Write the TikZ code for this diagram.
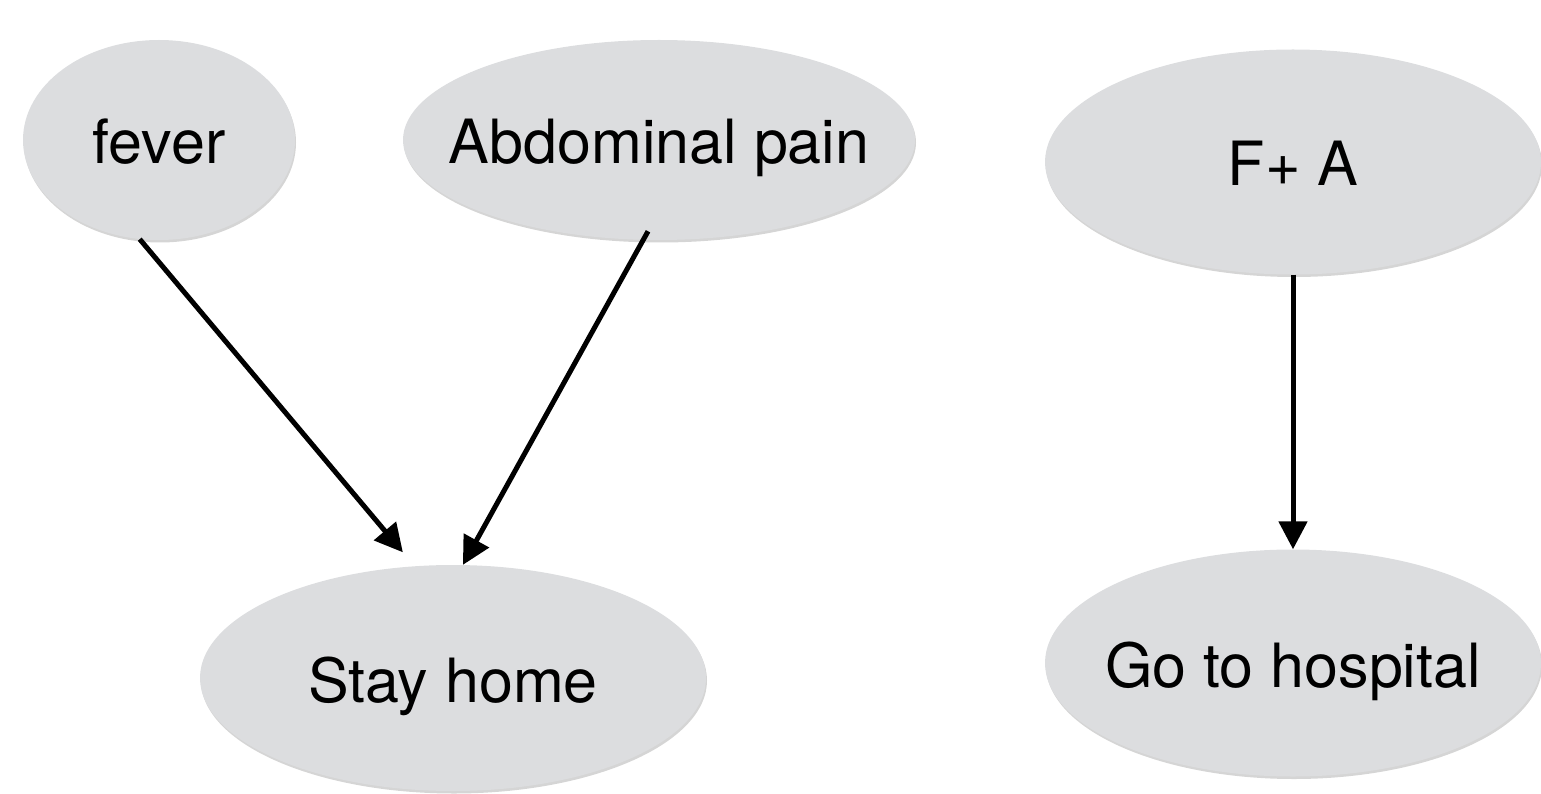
\documentclass[tikz,border=0pt]{standalone}
\usepackage{fontspec}
\setmainfont{TeX Gyre Heros}
\usetikzlibrary{shapes.geometric,arrows.meta,shadows}
\definecolor{bubble}{HTML}{DCDDDF}
\tikzset{
  bub/.style={ellipse, fill=bubble, inner sep=0pt, text height=48pt, text depth=0pt,
    drop shadow={shadow xshift=1pt, shadow yshift=-2.5pt, opacity=0.3, fill=black!55},
    font=\fontsize{61}{70}\selectfont},
  arr/.style={line width=5pt, -{Triangle[length=28pt,width=28pt]}}
}
\newcommand{\zb}[1]{\makebox[0pt]{#1}}
\begin{document}
\begin{tikzpicture}[x=1pt,y=-1pt]
\useasboundingbox (0,0) rectangle (1541,794);
\node[bub, minimum width=272pt, minimum height=200pt] (fever) at (159,140) {\zb{fever}};
\node[bub, minimum width=512pt, minimum height=200pt] (abd) at (659,140) {\zb{Abdominal pain}};
\node[bub, minimum width=506pt, minimum height=226pt] (stay) at (453,678) {\zb{Stay home}};
\node[bub, minimum width=496pt, minimum height=225pt] (fa) at (1293,162) {\zb{F+ A}};
\node[bub, minimum width=496pt, minimum height=227pt] (hosp) at (1293,663) {\zb{Go to hospital}};
\draw[arr, shorten >=18pt] (fever.259) -- (stay.109.5);
\draw[arr, shorten <=-10pt] (abd.261.7) -- (stay.85);
\draw[arr] (fa.270) -- (hosp.90);
\end{tikzpicture}
\end{document}
